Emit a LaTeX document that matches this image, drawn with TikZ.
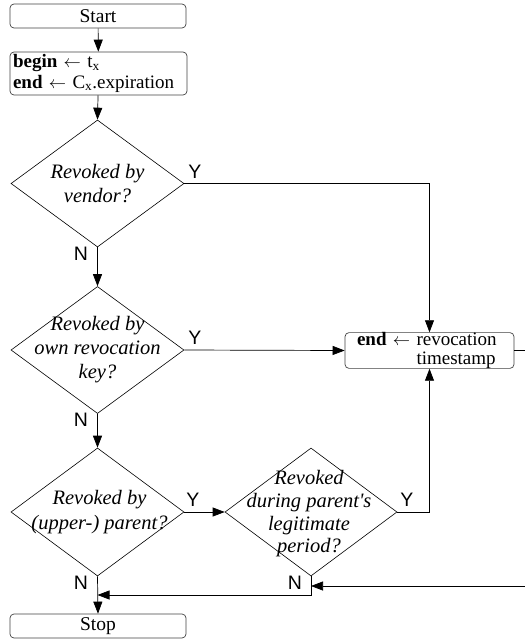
\documentclass[tikz,border=0pt]{standalone}
\usepackage{fontspec}
\setmainfont{Liberation Serif}
\newfontfamily\ynfont{Liberation Sans}
\usetikzlibrary{shapes.geometric,arrows.meta,calc}
\begin{document}
\begin{tikzpicture}[x=1pt,y=-1pt,
  box/.style={draw=black!75, rounded corners=4pt, line width=0.7pt, inner sep=0pt, font=\fontsize{19.5}{20}\selectfont},
  dia/.style={draw=black, shape=diamond, line width=0.6pt, inner sep=0pt, minimum width=173pt, minimum height=127pt},
  dtext/.style={align=center, inner sep=0pt, font=\fontsize{20.5}{24}\selectfont\itshape},
  yn/.style={inner sep=0pt, font=\fontsize{19.5}{19.5}\selectfont\ynfont},
  arr/.style={line width=0.7pt, -{Triangle[length=12pt,width=9pt]}},
  ln/.style={line width=0.7pt}]
\useasboundingbox (0,0) rectangle (525,641);
% boxes
\node[box, minimum width=176pt, minimum height=24pt] (start) at (98,16) {Start};
\node[box, minimum width=177pt, minimum height=43pt, text width=171pt, align=left, inner xsep=3pt, font=\fontsize{19}{20.5}\selectfont] (init) at (98.5,73.5) {\textbf{begin} $\leftarrow$ t\textsubscript{x}\\\textbf{end} $\leftarrow$ C\textsubscript{x}.expiration};
\node[box, minimum width=169pt, minimum height=35pt, text width=145pt, align=left, inner xsep=12pt, font=\fontsize{19}{18.5}\selectfont] (endb) at (429.5,350.5) {\textbf{end} $\leftarrow$ revocation\\\hphantom{\textbf{end} $\leftarrow$ }timestamp};
\node[box, minimum width=176pt, minimum height=24pt] (stop) at (98,626) {Stop};
% diamonds
\node[dia] (d1) at (97.5,183.5) {};
\node[dtext] (t1) at (d1.center) {Revoked by\\vendor?};
\node[dia] (d2) at (97.5,350) {};
\node[dtext] (t2) at (d2.center) {Revoked by\\own revocation\\key?};
\node[dia, minimum height=128pt] (d3) at (97.5,512) {};
\node[dtext, font=\fontsize{20.5}{25}\selectfont\itshape] (t3) at ($(d3.center)+(2,0)$) {Revoked by\\(upper-) parent?};
\node[dia, minimum height=128pt, minimum width=172pt] (d4) at (311,512) {};
\node[dtext, font=\fontsize{20.5}{22.7}\selectfont\itshape] (t4) at ($(d4.center)+(-2,2)$) {Revoked\\during parent\textquotesingle s\\legitimate\\period?};
% labels
\node[yn] (y1) at (195,172) {Y};
\node[yn] (n1) at (81,254) {N};
\node[yn] (y2) at (195,338) {Y};
\node[yn] (n2) at (81,420) {N};
\node[yn] (y3) at (193,500) {Y};
\node[yn] (n3) at (81,583) {N};
\node[yn] (y4) at (407,500) {Y};
\node[yn] (n4) at (295,583) {N};
% coordinates
\coordinate (r1) at (525,350.5);
\coordinate (r2) at (525,586);
\coordinate (j4) at (311,595);
\coordinate (j3) at (97.5,595);
% connectors
\draw[arr] (start) -- (init);
\draw[arr] (init) -- (d1.north);
\draw[arr] (d1.south) -- (d2.north);
\draw[arr] (d2.south) -- (d3.north);
\draw[arr] (d3.south) -- (stop.north);
\draw[arr] (d1.east) -| (endb.north);
\draw[arr] (d2.east) -- (endb.west);
\draw[arr] (d4.east) -| (endb.south);
\draw[arr] (d3.east) -- (d4.west);
\draw[ln] (endb.east) -- (r1);
\draw[arr] (r2) -- (d4.south |- r2);
\draw[arr] (d4.south) -- (j4) -- (j3);
\end{tikzpicture}
\end{document}
